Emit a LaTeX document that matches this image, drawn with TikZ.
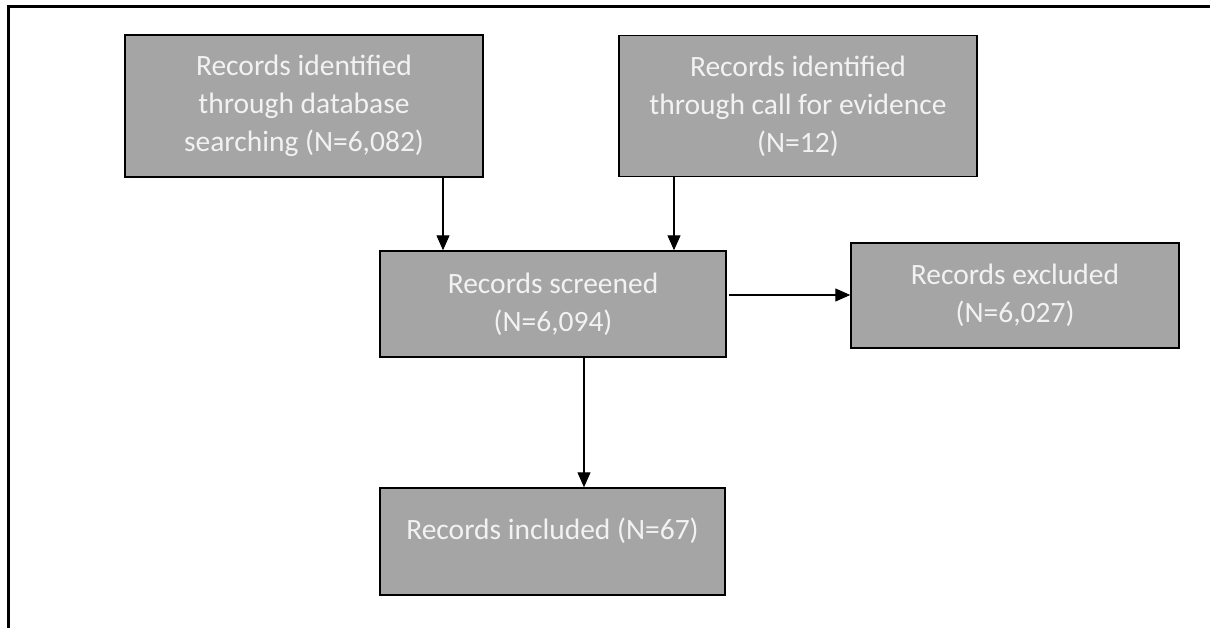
\documentclass[tikz,border=0pt]{standalone}
\usepackage{fontspec}
\setmainfont{Carlito}
\usetikzlibrary{arrows.meta}
\definecolor{boxfill}{HTML}{A5A5A5}
\definecolor{boxtext}{HTML}{F2F2F2}
\tikzset{
  stagebox/.style={draw=black, line width=1.4pt, fill=boxfill, text=boxtext, align=center,
    inner sep=0pt, font=\fontsize{29.5}{38}\selectfont},
  flowarrow/.style={draw=black, line width=1.1pt, -{Triangle[length=15pt,width=13pt]}},
  frameline/.style={draw=black, line width=3pt},
  plaintext/.style={text=boxtext, align=center, inner sep=0pt, font=\fontsize{29.5}{38}\selectfont}
}
\begin{document}
\begin{tikzpicture}[x=1pt,y=-1pt]
\useasboundingbox (0,0) rectangle (1210,628);
\coordinate (fbl) at (8,640);
\coordinate (ftl) at (8,7);
\coordinate (ftr) at (1215,7);
\draw[frameline] (fbl) -- (ftl) -- (ftr);

\node[stagebox, minimum width=358pt, minimum height=142pt] (db) at (304,106)
  {Records identified\\through database\\searching (N=6,082)};
\node[stagebox, minimum width=358pt, minimum height=141pt] (call) at (798,106)
  {Records identified\\through call for evidence\\(N=12)};
\node[stagebox, minimum width=346pt, minimum height=106pt] (scr) at (553,304)
  {Records screened\\(N=6,094)};
\node[stagebox, minimum width=328pt, minimum height=105pt] (exc) at (1015,295.5)
  {Records excluded\\(N=6,027)};
\node[stagebox, minimum width=345pt, minimum height=107pt] (inc) at (552.5,541.5) {};
\node[plaintext] (inctext) at (552.5,531) {Records included (N=67)};

\coordinate (x1) at (443,0);
\coordinate (x2) at (674,0);
\coordinate (x3) at (584,0);
\coordinate (y3) at (0,295);

\draw[flowarrow] (db.south -| x1) -- (scr.north -| x1);
\draw[flowarrow] (call.south -| x2) -- (scr.north -| x2);
\draw[flowarrow] ([xshift=2pt]scr.east |- y3) -- (exc.west |- y3);
\draw[flowarrow] (scr.south -| x3) -- (inc.north -| x3);
\end{tikzpicture}
\end{document}
